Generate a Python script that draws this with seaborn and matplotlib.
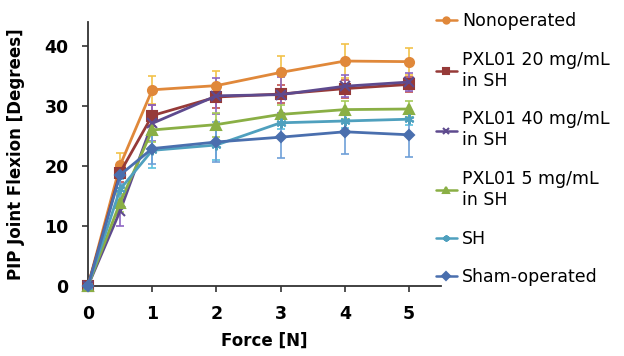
import pandas as pd
import matplotlib.pyplot as plt
import seaborn as sns

force = [0, 0.5, 1, 2, 3, 4, 5]
groups = ['Nonoperated', 'PXL01 20 mg/mL\nin SH', 'PXL01 40 mg/mL\nin SH',
          'PXL01 5 mg/mL\nin SH', 'SH', 'Sham-operated']

nonoperated = [0, 20.1, 32.7, 33.4, 35.6, 37.5, 37.4]
pxl20 = [0, 18.9, 28.4, 31.5, 32.0, 32.9, 33.6]
pxl40 = [0, 12.5, 27.1, 31.7, 31.9, 33.3, 34.0]
pxl5 = [0, 13.9, 26.0, 26.9, 28.6, 29.4, 29.5]
sh = [0, 16.1, 22.6, 23.5, 27.2, 27.5, 27.8]
sham = [0, 18.5, 22.9, 24.0, 24.8, 25.7, 25.2]

err_nonop = [0, 2.0, 2.3, 2.4, 2.8, 2.8, 2.3]
err_pxl20 = [0, 1.5, 1.8, 1.8, 1.5, 1.5, 1.3]
err_pxl40 = [0, 2.5, 3.0, 3.0, 3.0, 1.8, 1.5]
err_pxl5 = [0, 1.5, 2.0, 2.0, 1.5, 1.5, 1.3]
err_sh = [0, 1.8, 3.0, 2.5, 1.0, 1.2, 1.0]
err_sham = [0, 1.5, 2.5, 3.4, 3.5, 3.7, 3.7]

values = [nonoperated, pxl20, pxl40, pxl5, sh, sham]
errors = [err_nonop, err_pxl20, err_pxl40, err_pxl5, err_sh, err_sham]

line_colors = ['#E0883A', '#963A38', '#5E4A8E', '#8AAF45', '#4FA0BE', '#4A6FAE']
err_colors = ['#F2C24A', '#C0504D', '#8E66C4', '#A7CB5A', '#5BC0DE', '#6E9FD8']
markers = ['o', 's', 'x', '^', (6, 2, 0), 'D']
sizes = [6.5, 6.5, 6.5, 6.5, 7, 5]

rows = []
for g, v in zip(groups, values):
    for f, y in zip(force, v):
        rows.append({'Force': f, 'Flexion': y, 'Group': g})
df = pd.DataFrame(rows)

sns.set_style('white')
plt.rcParams['font.family'] = ['DejaVu Sans']

fig = plt.figure(figsize=(6.24, 3.56), dpi=100)
ax = fig.add_axes([0.141, 0.197, 0.566, 0.741])

for i, g in enumerate(groups):
    ax.errorbar(force, values[i], yerr=errors[i], fmt='none', ecolor=err_colors[i],
                elinewidth=1.2, capsize=3, capthick=1.2, zorder=2 + i * 0.1, clip_on=False)

for i, g in enumerate(groups):
    sub = df[df['Group'] == g]
    sns.lineplot(data=sub, x='Force', y='Flexion', ax=ax, color=line_colors[i],
                 marker=markers[i], markersize=sizes[i], markeredgecolor=line_colors[i],
                 markeredgewidth=1.5, linewidth=2, label=g, zorder=3 + i * 0.1, clip_on=False)

ax.set_xlim(0, 5.5)
ax.set_ylim(0, 44)
ax.set_xticks([0, 1, 2, 3, 4, 5])
ax.set_yticks([0, 10, 20, 30, 40])
ax.set_xlabel('Force [N]', fontsize=12, fontweight='bold', labelpad=6, color='black')
ax.set_ylabel('PIP Joint Flexion [Degrees]', fontsize=12, fontweight='bold', labelpad=14,
              color='black')
for lab in ax.get_xticklabels() + ax.get_yticklabels():
    lab.set_fontweight('bold')
ax.tick_params(axis='both', labelsize=12.5, length=4, width=1.2, direction='out',
               color='#333333', labelcolor='black', bottom=True, left=True)
ax.tick_params(axis='x', pad=10)
ax.tick_params(axis='y', pad=10)

for s in ['top', 'right']:
    ax.spines[s].set_visible(False)
for s in ['left', 'bottom']:
    ax.spines[s].set_color('#333333')
    ax.spines[s].set_linewidth(1.3)

leg = ax.legend(loc='upper left', bbox_to_anchor=(0.965, 1.065), frameon=False, fontsize=12.5,
                handlelength=1.2, handletextpad=0.3, labelspacing=1.2, borderaxespad=0)
for t in leg.get_texts():
    t.set_color('black')
for h in leg.legend_handles:
    h.set_markersize(4.5)
    h.set_linewidth(1.8)

fig.savefig('out.png', dpi=100)
